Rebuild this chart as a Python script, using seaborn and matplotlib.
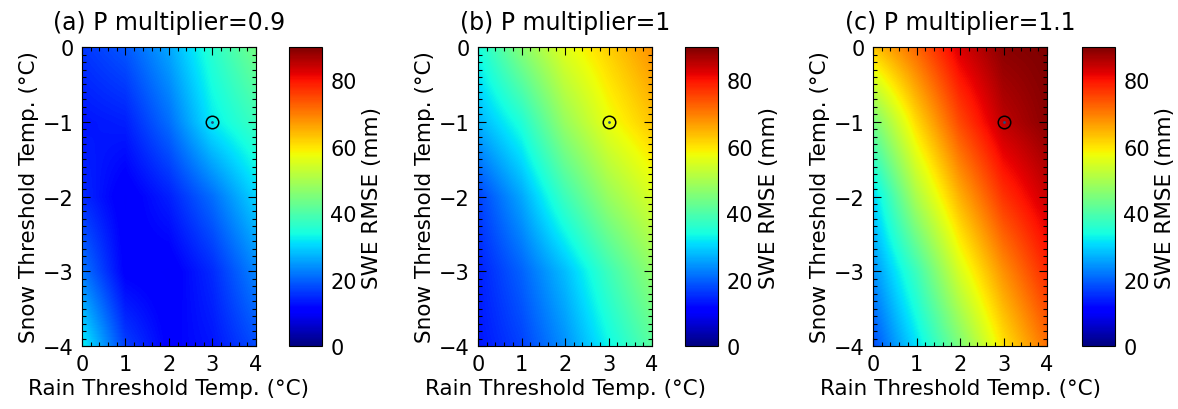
import numpy as np
import matplotlib
matplotlib.use("Agg")
import matplotlib.pyplot as plt
from matplotlib.ticker import MultipleLocator, FixedLocator
import seaborn as sns

sns.set_theme(style="ticks")
plt.rcParams["font.family"] = ["DejaVu Sans"]
plt.rcParams["text.color"] = "black"
plt.rcParams["axes.labelcolor"] = "black"
plt.rcParams["xtick.color"] = "black"
plt.rcParams["ytick.color"] = "black"

# Threshold grid (deg C)
rain_threshold = [0, 1, 2, 3, 4]
snow_threshold = [-4, -3, -2, -1, 0]

# SWE RMSE (mm); rows follow snow_threshold, columns follow rain_threshold
rmse_p09 = [
    [33, 17, 11, 13, 18],
    [22, 11, 10, 15, 23],
    [15, 10, 14, 21, 30],
    [13, 14, 21, 32, 38],
    [16, 19, 26, 36, 44],
]
rmse_p10 = [
    [13, 17, 24, 33, 41],
    [14, 20, 28, 38, 47],
    [17, 26, 38, 48, 55],
    [27, 35, 48, 57, 63],
    [34, 46, 56, 62, 68],
]
rmse_p11 = [
    [18, 31, 45, 60, 71],
    [24, 38, 55, 68, 78],
    [30, 50, 65, 77, 84],
    [44, 61, 75, 85, 89],
    [63, 72, 83, 89, 90],
]

titles = ["(a) P multiplier=0.9", "(b) P multiplier=1", "(c) P multiplier=1.1"]
panels = [rmse_p09, rmse_p10, rmse_p11]

# Best parameter set
best_rain = 3
best_snow = -1

fig = plt.figure(figsize=(11.78, 4.10), dpi=100)

ax_lefts = [0.0696, 0.4058, 0.7411]
cb_lefts = [0.2453, 0.5815, 0.9185]
bottom, height = 0.1537, 0.729
ax_w, cb_w = 0.1477, 0.028

fs_tick = 15
fs_label = 15.5
fs_title = 17

x = np.asarray(rain_threshold, dtype=float)
y = np.asarray(snow_threshold, dtype=float)
dx = (x[1] - x[0]) / 2
dy = (y[1] - y[0]) / 2

for i, (vals, title) in enumerate(zip(panels, titles)):
    ax = fig.add_axes([ax_lefts[i], bottom, ax_w, height])
    cax = fig.add_axes([cb_lefts[i], bottom, cb_w, height])
    img = ax.imshow(np.array(vals, dtype=float), origin="lower", cmap="jet",
                    vmin=0, vmax=90, aspect="auto",
                    interpolation="bilinear", interpolation_stage="data",
                    extent=[x[0] - dx, x[-1] + dx, y[0] - dy, y[-1] + dy])
    ax.plot([best_rain], [best_snow], marker="o", ms=9, mfc="none",
            mec="black", mew=1.1, ls="none")
    ax.plot([best_rain], [best_snow], marker=".", ms=2, color="#205080", ls="none")

    ax.set_xlim(x[0], x[-1])
    ax.set_ylim(y[0], y[-1])
    ax.set_axisbelow(False)
    ax.xaxis.set_major_locator(FixedLocator(rain_threshold))
    ax.yaxis.set_major_locator(FixedLocator(snow_threshold))
    ax.xaxis.set_minor_locator(MultipleLocator(0.2))
    ax.yaxis.set_minor_locator(MultipleLocator(0.1))
    ax.set_yticklabels(["\u22124", "\u22123", "\u22122", "\u22121", "0"])
    ax.tick_params(which="both", direction="in", top=True, right=True,
                   color="black", width=0.8, labelsize=fs_tick, pad=6)
    ax.tick_params(which="major", length=6)
    ax.tick_params(which="minor", length=3)
    for sp in ax.spines.values():
        sp.set_color("black")
        sp.set_linewidth(0.8)
        sp.set_zorder(5)

    ax.set_xlabel("Rain Threshold Temp. (\u00b0C)", fontsize=fs_label, labelpad=3)
    ax.set_ylabel("Snow Threshold Temp. (\u00b0C)", fontsize=fs_label, labelpad=3)
    ax.set_title(title, fontsize=fs_title, pad=13)

    cb = fig.colorbar(img, cax=cax, ticks=[0, 20, 40, 60, 80])
    cb.outline.set_edgecolor("black")
    cb.outline.set_linewidth(0.8)
    cax.tick_params(labelsize=fs_tick, length=4, direction="in", color="black", pad=6)
    cb.set_label("SWE RMSE (mm)", fontsize=fs_label, labelpad=4)

fig.savefig("out.png", dpi=100, facecolor="white")
